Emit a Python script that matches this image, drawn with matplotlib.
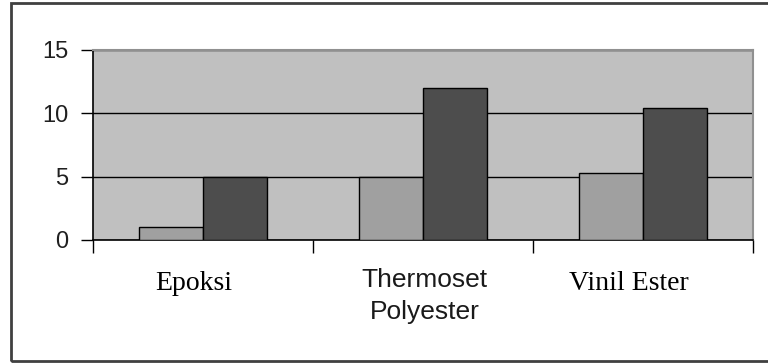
import numpy as np
import matplotlib.pyplot as plt
from matplotlib.patches import Rectangle
from matplotlib.transforms import ScaledTranslation

# resin types and the two measured series
categories = ['Epoksi', 'Thermoset\nPolyester', 'Vinil Ester']
series_a = [1.0, 5.0, 5.3]
series_b = [5.0, 12.0, 10.4]
y_ticks = [0, 5, 10, 15]

fig = plt.figure(figsize=(7.68, 3.63), dpi=100)
ax = fig.add_axes([93/768, 1-240/363, 660/768, 190/363])
ax.set_facecolor('#C0C0C0')

x = np.arange(len(categories))
w = 0.29
ax.bar(x - w/2, series_a, w, color='#A0A0A0', edgecolor='black', lw=1, zorder=3)
ax.bar(x + w/2, series_b, w, color='#4D4D4D', edgecolor='black', lw=1, zorder=3)

ax.set_xlim(-0.5, len(categories) - 0.5)
ax.set_ylim(0, 15)

# horizontal gridlines
ax.set_yticks(y_ticks)
ax.yaxis.grid(True, color='black', lw=1)
ax.set_axisbelow(True)
ax.set_yticklabels([str(v) for v in y_ticks], fontfamily='Liberation Sans',
                   fontsize=17, color='#202020')
ax.tick_params(axis='y', length=9, width=1, pad=9, color='black')

# category boundaries as ticks, names written under each group
ax.set_xticks(np.arange(len(categories) + 1) - 0.5)
ax.set_xticklabels([])
ax.tick_params(axis='x', which='major', length=9, width=1, color='black')

label_style = {
    'Epoksi': dict(family='Liberation Serif', size=20, color='black', dx=-7, dy=-0.165),
    'Thermoset\nPolyester': dict(family='Liberation Sans', size=19, color='#1a1a1a', dx=1, dy=-0.145),
    'Vinil Ester': dict(family='Liberation Serif', size=20, color='black', dx=-10, dy=-0.165),
}
for xi, name in zip(x, categories):
    st = label_style[name]
    tr = ax.get_xaxis_transform() + ScaledTranslation(st['dx']/72, 0, fig.dpi_scale_trans)
    ax.text(xi, st['dy'], name, transform=tr, ha='center', va='top',
            family=st['family'], fontsize=st['size'], color=st['color'],
            linespacing=1.45, clip_on=False)

for s in ['top', 'right']:
    ax.spines[s].set_color('#909090')
    ax.spines[s].set_linewidth(1.5)
for s in ['left', 'bottom']:
    ax.spines[s].set_color('black')
    ax.spines[s].set_linewidth(1.2)

# outer chart frame
fig.patches.append(Rectangle((11/768, 1-361/363), 2.0, 358/363, transform=fig.transFigure,
                             fill=False, ec='#404040', lw=2))

fig.savefig('out.png', dpi=100)
